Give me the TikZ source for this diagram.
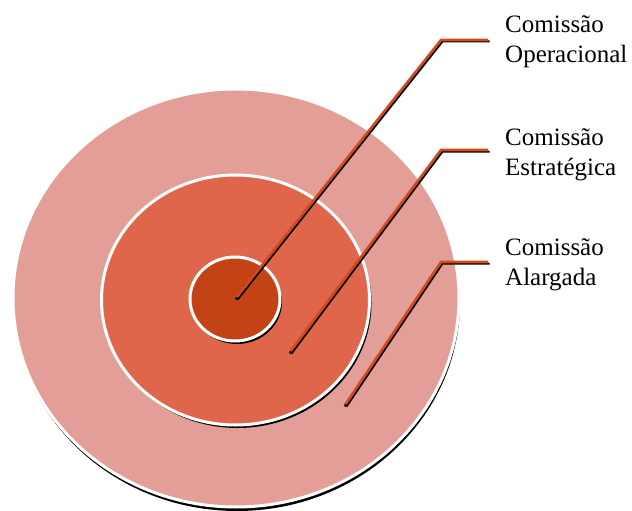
\documentclass[tikz,border=0pt]{standalone}
\usepackage{fontspec}
\setmainfont{Liberation Serif}
\definecolor{outerc}{HTML}{E39E97}
\definecolor{midc}{HTML}{DF664B}
\definecolor{innerc}{HTML}{C34316}
\definecolor{leadc}{HTML}{D4491A}
\tikzset{
  ringshadow/.style={fill=black},
  ring/.style={draw=white, line width=3pt},
  leadshadow/.style={draw=black, line width=2pt, line join=miter},
  lead/.style={draw=leadc, line width=2.6pt, line join=miter},
  lbl/.style={anchor=base west, align=left, inner sep=0pt, font=\fontsize{25}{30}\selectfont}
}
\begin{document}
\begin{tikzpicture}[x=1pt,y=-1pt]
\useasboundingbox (0,0) rectangle (632,511);
% outer
\fill[ringshadow] (237,302) ellipse [x radius=223, y radius=209];
\path[ring, fill=outerc] (236,298) ellipse [x radius=223, y radius=209];
% middle
\fill[ringshadow] (237.5,303) ellipse [x radius=134, y radius=125];
\path[ring, fill=midc] (235.5,300) ellipse [x radius=134, y radius=125];
% inner
\fill[ringshadow] (237,302) ellipse [x radius=45, y radius=42];
\path[ring, fill=innerc] (235,299) ellipse [x radius=45, y radius=42];
% coordinates
\coordinate (p1) at (236,298);
\coordinate (k1) at (441,40);
\coordinate (e1) at (488,40);
\coordinate (p2) at (290,352);
\coordinate (k2) at (441,150);
\coordinate (e2) at (488,150);
\coordinate (p3) at (345,405);
\coordinate (k3) at (441,262);
\coordinate (e3) at (488,262);
% leader shadows
\foreach \i in {1,2,3}{
  \draw[leadshadow] ([shift={(1.5,1.5)}]p\i) -- ([shift={(1.5,1.5)}]k\i) -- ([shift={(1.5,1.5)}]e\i);
}
\foreach \i in {1,2,3}{
  \draw[lead] (p\i) -- (k\i) -- (e\i);
  \fill[black] ([shift={(0.5,0.5)}]p\i) circle (1.6pt);
}
% labels (anchor at baseline of the last line)
\node[lbl] (l1) at (505,63) {Comissão\\Operacional};
\node[lbl] (l2) at (505,175) {Comissão\\Estratégica};
\node[lbl] (l3) at (505,285) {Comissão\\Alargada};
\end{tikzpicture}
\end{document}
